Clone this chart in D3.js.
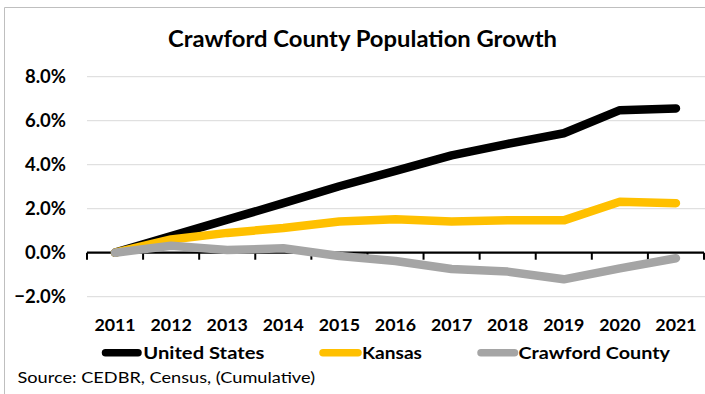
<!DOCTYPE html>
<html>
<head>
<meta charset="utf-8">
<script src="https://cdn.jsdelivr.net/npm/d3@7"></script>
<style>
  html, body { margin: 0; padding: 0; background: #fff; }
  svg { display: block; }
  text { font-family: Lato, "Liberation Sans", sans-serif; }
</style>
</head>
<body>
<svg id="chart" width="705" height="394"></svg>
<script>
// ---- data ----
const years = ["2011","2012","2013","2014","2015","2016","2017","2018","2019","2020","2021"];
const unitedStates = [0, 0.75, 1.5, 2.25, 3.02, 3.72, 4.42, 4.95, 5.43, 6.48, 6.56];
const kansas = [0, 0.6, 0.9, 1.12, 1.42, 1.52, 1.42, 1.47, 1.47, 2.32, 2.25];
const crawford = [0, 0.32, 0.12, 0.2, -0.15, -0.38, -0.74, -0.86, -1.21, -0.71, -0.25];
const seriesNames = ["United States", "Kansas", "Crawford County"];
const yTicks = [-2, 0, 2, 4, 6, 8];
const title = "Crawford County Population Growth";
const source = "Source: CEDBR, Census, (Cumulative)";

const seriesValues = [unitedStates, kansas, crawford];
const colors = ["#000000", "#ffc000", "#a5a5a5"];

const svg = d3.select("#chart");

// frame
svg.append("path")
  .attr("d", "M4.5,400 L4.5,7.5 L710,7.5")
  .attr("fill", "none").attr("stroke", "#bfbfbf").attr("stroke-width", 1);

const x = d3.scaleBand().domain(years).range([87, 704]);
const y = d3.scaleLinear().domain([-2, 8]).range([296.7, 76.7]);
const cx = d => x(d) + x.bandwidth() / 2;

// gridlines
svg.append("g").selectAll("line").data(yTicks.filter(t => t !== 0)).join("line")
  .attr("x1", 87).attr("x2", 705)
  .attr("y1", d => y(d)).attr("y2", d => y(d))
  .attr("stroke", "#d9d9d9").attr("stroke-width", 1);

// y labels
svg.append("g").selectAll("text").data(yTicks).join("text")
  .attr("x", 66).attr("y", d => y(d) + 6.5)
  .attr("text-anchor", "end")
  .attr("font-weight", 700).attr("font-size", 18.5).attr("fill", "#000")
  .text(d => d3.format(".1f")(d) + "%");

// x axis (at zero)
const y0 = y(0);
svg.append("line").attr("x1", 87).attr("x2", 704).attr("y1", y0).attr("y2", y0)
  .attr("stroke", "#000").attr("stroke-width", 2.2);
const tickPos = years.map(d => x(d)).concat([x.range()[1]]);
svg.append("g").selectAll("line").data(tickPos).join("line")
  .attr("x1", d => d).attr("x2", d => d)
  .attr("y1", y0).attr("y2", y0 + 7)
  .attr("stroke", "#000").attr("stroke-width", 2);

// x labels
svg.append("g").selectAll("text").data(years).join("text")
  .attr("x", d => cx(d)).attr("y", 330.5)
  .attr("text-anchor", "middle")
  .attr("font-weight", 700).attr("font-size", 17.8).attr("fill", "#000")
  .text(d => d);

// lines
const line = d3.line().x((v, i) => cx(years[i])).y(v => y(v));
seriesValues.forEach((vals, i) => {
  svg.append("path").datum(vals)
    .attr("d", line)
    .attr("fill", "none")
    .attr("stroke", colors[i])
    .attr("stroke-width", 8.5)
    .attr("stroke-linejoin", "round")
    .attr("stroke-linecap", "round");
});

// title
svg.append("text").attr("x", 362.5).attr("y", 47)
  .attr("text-anchor", "middle")
  .attr("font-weight", 700).attr("font-size", 23.7)
  .attr("textLength", 389).attr("lengthAdjust", "spacingAndGlyphs")
  .text(title);

// legend
const legendItems = [
  { x1: 105.5, x2: 138, tx: 143.3, tw: 121 },
  { x1: 323, x2: 358, tx: 362, tw: 60 },
  { x1: 481, x2: 514.5, tx: 518.5, tw: 151.5 }
];
legendItems.forEach((it, i) => {
  svg.append("line")
    .attr("x1", it.x1).attr("x2", it.x2).attr("y1", 352.7).attr("y2", 352.7)
    .attr("stroke", colors[i]).attr("stroke-width", 7.5).attr("stroke-linecap", "round");
  svg.append("text").attr("x", it.tx).attr("y", 358.5)
    .attr("font-weight", 700).attr("font-size", 17.5)
    .attr("textLength", it.tw).attr("lengthAdjust", "spacingAndGlyphs")
    .text(seriesNames[i]);
});

// source
svg.append("text").attr("x", 17.5).attr("y", 383.3)
  .attr("font-size", 16.2)
  .attr("textLength", 297.5).attr("lengthAdjust", "spacingAndGlyphs")
  .text(source);
</script>
</body>
</html>
